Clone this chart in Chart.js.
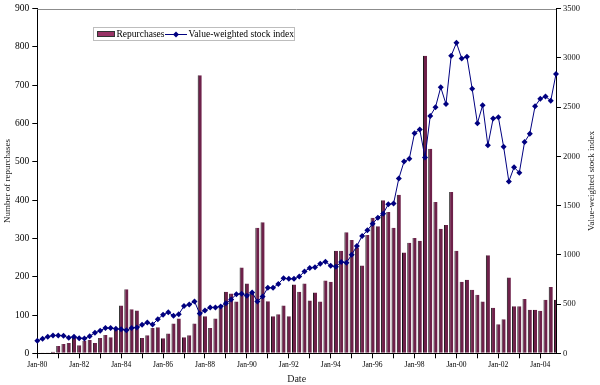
<!DOCTYPE html>
<html>
<head>
<meta charset="utf-8">
<script src="https://cdn.jsdelivr.net/npm/chart.js@4.4.1/dist/chart.umd.min.js"></script>
<style>
  html, body { margin: 0; padding: 0; background: #fff; }
  #wrap { width: 600px; height: 385px; position: relative; }
</style>
</head>
<body>
<div id="wrap"><canvas id="chart"></canvas></div>
<script>
// quarterly categories, Jan-80 .. Oct-04
const quarterMonths = ["Jan", "Apr", "Jul", "Oct"];
const quarters = [];
for (let y = 1980; y <= 2004; y++) {
  quarterMonths.forEach(m => quarters.push(m + "-" + String(y % 100).padStart(2, "0")));
}

const tickLabels = ["Jan-80", "Jan-82", "Jan-84", "Jan-86", "Jan-88", "Jan-90", "Jan-92",
  "Jan-94", "Jan-96", "Jan-98", "Jan-00", "Jan-02", "Jan-04"];

const repurchases = [
  0, 1, 2, 4, 19, 24, 27, 40, 21, 33,
  35, 27, 40, 48, 42, 62, 125, 167, 115, 112,
  40, 47, 66, 68, 39, 52, 78, 91, 42, 47,
  78, 726, 97, 66, 91, 119, 161, 156, 135, 224,
  182, 160, 328, 342, 136, 97, 102, 125, 97, 180,
  161, 182, 138, 159, 135, 190, 187, 268, 268, 316,
  296, 276, 229, 309, 354, 332, 400, 369, 328, 414,
  263, 289, 301, 294, 777, 534, 395, 325, 335, 421,
  268, 187, 192, 166, 153, 135, 256, 119, 76, 89,
  198, 123, 123, 142, 114, 114, 111, 140, 173, 140
];

const stockIndex = [
  127, 147, 167, 181, 182, 177, 157, 169, 154, 151,
  174, 208, 230, 256, 256, 250, 243, 235, 256, 262,
  290, 312, 293, 346, 391, 416, 381, 396, 480, 495,
  527, 403, 434, 466, 466, 475, 508, 547, 600, 604,
  584, 618, 527, 577, 665, 665, 705, 762, 756, 756,
  779, 832, 866, 873, 910, 930, 890, 880, 927, 920,
  1000, 1091, 1192, 1249, 1316, 1376, 1418, 1513, 1521, 1776,
  1947, 1975, 2236, 2273, 1988, 2411, 2500, 2702, 2532, 3023,
  3153, 2995, 3012, 2686, 2337, 2519, 2112, 2384, 2398, 2099,
  1746, 1890, 1834, 2146, 2230, 2509, 2585, 2609, 2565, 2837
];

const serif = "'Liberation Serif', 'Times New Roman', serif";

const decor = {
  id: "decor",
  afterDraw(chart) {
    const { ctx, chartArea: a } = chart;
    ctx.save();

    // grey top border of plot area
    ctx.strokeStyle = "#8c8c8c";
    ctx.lineWidth = 1;
    ctx.beginPath();
    ctx.moveTo(a.left, Math.round(a.top) + 0.5);
    ctx.lineTo(a.right, Math.round(a.top) + 0.5);
    ctx.stroke();

    // axis titles
    ctx.fillStyle = "#222";
    ctx.font = "9px " + serif;
    ctx.textAlign = "center";
    ctx.textBaseline = "middle";
    const cy = (a.top + a.bottom) / 2;
    [[8, "Number of repurchases"], [592, "Value-weighted stock index"]].forEach(([x, t]) => {
      ctx.save();
      ctx.translate(x, cy);
      ctx.rotate(-Math.PI / 2);
      ctx.fillText(t, 0, 0);
      ctx.restore();
    });
    ctx.font = "10px " + serif;
    ctx.fillText("Date", (a.left + a.right) / 2, 379);

    // legend box
    ctx.fillStyle = "#fff";
    ctx.fillRect(93.5, 27.5, 201, 13);
    ctx.strokeStyle = "#bdbdbd";
    ctx.strokeRect(93.5, 27.5, 201, 13);

    ctx.fillStyle = "#993366";
    ctx.fillRect(97, 31, 18, 6);
    ctx.strokeStyle = "#333";
    ctx.strokeRect(97.5, 31.5, 17, 5);

    ctx.fillStyle = "#000";
    ctx.font = "9.5px " + serif;
    ctx.textAlign = "left";
    ctx.fillText("Repurchases", 116.5, 34.5);

    ctx.strokeStyle = "#000080";
    ctx.beginPath();
    ctx.moveTo(165, 34.5);
    ctx.lineTo(187, 34.5);
    ctx.stroke();
    ctx.fillStyle = "#000080";
    ctx.beginPath();
    ctx.moveTo(176, 31.5);
    ctx.lineTo(179, 34.5);
    ctx.lineTo(176, 37.5);
    ctx.lineTo(173, 34.5);
    ctx.closePath();
    ctx.fill();

    ctx.fillStyle = "#000";
    ctx.fillText("Value-weighted stock index", 188.5, 34.5);

    ctx.restore();
  }
};

new Chart(document.getElementById("chart"), {
  data: {
    labels: quarters,
    datasets: [
      {
        type: "line",
        label: "Value-weighted stock index",
        data: stockIndex,
        yAxisID: "y1",
        order: 0,
        borderColor: "#000080",
        backgroundColor: "#000080",
        borderWidth: 1,
        pointStyle: "rectRot",
        pointRadius: 3,
        pointBorderWidth: 0,
        tension: 0,
        clip: false
      },
      {
        type: "bar",
        label: "Repurchases",
        data: repurchases,
        yAxisID: "y",
        order: 1,
        backgroundColor: "#6e214a",
        borderColor: "#111",
        borderWidth: { left: 1, top: 0, right: 0, bottom: 0 },
        borderSkipped: false,
        barPercentage: 0.78,
        categoryPercentage: 1
      }
    ]
  },
  options: {
    responsive: true,
    maintainAspectRatio: false,
    animation: false,
    layout: { padding: { top: 6, left: 0, right: 0, bottom: 0 } },
    plugins: {
      legend: { display: false },
      tooltip: { enabled: false }
    },
    scales: {
      x: {
        offset: false,
        grid: {
          offset: false,
          drawOnChartArea: false,
          tickLength: 5,
          tickColor: c => (c.index % 4 === 0 ? "#000" : "rgba(0,0,0,0)")
        },
        border: { color: "#000" },
        ticks: {
          autoSkip: false,
          maxRotation: 0,
          minRotation: 0,
          padding: 2,
          color: "#000",
          font: { family: serif, size: 7.5 },
          callback: (v, i) => (tickLabels.includes(quarters[i]) ? quarters[i] : "")
        },
        afterFit: s => { s.height = 31.7; }
      },
      y: {
        position: "left",
        min: 0,
        max: 900,
        grid: { drawOnChartArea: false, tickLength: 5, tickColor: "#000" },
        border: { color: "#000" },
        ticks: { stepSize: 100, padding: 3, color: "#000", font: { family: serif, size: 9.5 } },
        afterFit: s => { s.width = 37.3; }
      },
      y1: {
        position: "right",
        min: 0,
        max: 3500,
        grid: { drawOnChartArea: false, tickLength: 5, tickColor: "#000" },
        border: { color: "#000" },
        ticks: { stepSize: 500, padding: 2, color: "#111",
          font: { family: serif, size: 8.5 },
          callback: v => String(v) },
        afterFit: s => { s.width = 44; }
      }
    }
  },
  plugins: [decor]
});
</script>
</body>
</html>
